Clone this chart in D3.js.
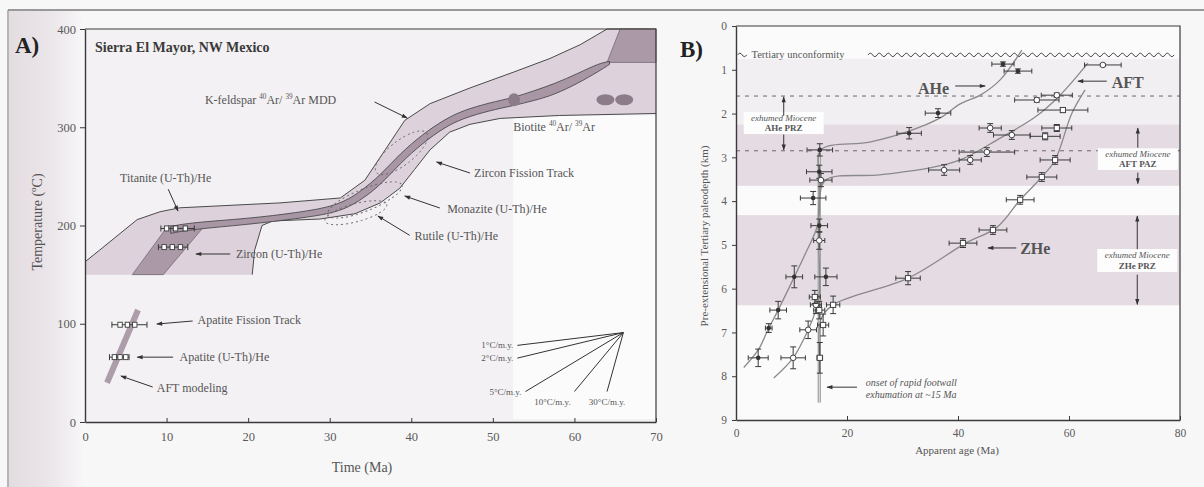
<!DOCTYPE html>
<html><head><meta charset="utf-8">
<script src="https://cdn.jsdelivr.net/npm/d3@7"></script>
<style>
body{margin:0;background:#f8f7f8;}
svg, svg text{font-family:"Liberation Serif","DejaVu Serif",serif;}
</style></head><body>
<svg id="fig" width="1204" height="487" font-family="Liberation Serif, DejaVu Serif, serif"></svg>
<script>
// ---------- Panel A: thermal history, Sierra El Mayor ----------
const timeTicks = [0, 10, 20, 30, 40, 50, 60, 70];
const tempTicks = [0, 100, 200, 300, 400];

// light envelope of permissible t-T paths (time Ma, temperature °C), clockwise
const envelopeUpper = [[0,163],[1.8,175],[6.4,206],[9.2,214],[11.6,218],[23.9,223],[31.3,228],[34.3,246],[36.8,277],[39.2,307],[42.3,324],[47.2,340],[52.5,356],[57,370],[60.7,384],[64,400],[70,400]];
const envelopeLower = [[70,314],[58.2,312],[50.9,309],[47.2,303],[44.7,295],[42.3,277],[40.4,257],[38.6,238],[36.2,223],[33.1,212],[28.8,206.6],[23,204.6],[21.7,200],[20.8,175],[20.5,150],[0,150]];
// darker blocks
const zirconHeBlock = [[5.8,150],[9.6,150],[14.7,200],[10.2,200]];
const kfsBlock = [[64,366],[65.6,400],[70,400],[70,366]];
// preferred cooling path: [time, lower T, upper T]
const coolPath = [[10.5,192,199],[13,196,203],[20,201,207],[26,207,213],[31,213,220],[33.7,225,234],[36.2,241,251],[38.6,263,273],[41.4,284,293],[44.1,300,308],[46.3,309,317],[49.6,317,325],[52.5,322,330],[55,327,337],[57.5,333,344],[60.5,345,355],[63,357,365],[64.3,364,367]];
const aftModel = [[2.7,40],[6.5,114]];

// thermochronometer ages (Ma) at their closure temperatures
const titaniteAges = [10.0, 11.1, 12.3], titaniteTemp = 197, titaniteRange = [9.3, 13.4];
const zirconHeAges = [9.7, 10.7, 11.7], zirconHeTemp = 178, zirconHeRange = [9.0, 12.6];
const apatiteFTAges = [4.3, 5.2, 6.1], apatiteFTTemp = 99, apatiteFTRange = [3.3, 7.6];
const apatiteHeAges = [3.6, 4.3, 5.0], apatiteHeTemp = 66, apatiteHeRange = [3.0, 5.4];
const biotiteAges = [52.6, 63.8, 66.1], biotiteTemp = 328;

// reference cooling rates (°C per m.y.)
const rateValues = [1, 2, 5, 10, 30];
const rateLabels = ["1°C/m.y.", "2°C/m.y.", "5°C/m.y.", "10°C/m.y.", "30°C/m.y."];
const rateOrigin = [66, 91];

// ---------- Panel B: age vs paleodepth ----------
const ageTicks = [0, 20, 40, 60, 80];
const depthTicks = [0,1,2,3,4,5,6,7,8,9];
// [age Ma, depth km, age error, depth error]
const aheData = [[48.1,0.87,2,0.05],[50.8,1.03,2.5,0.05],[36.4,1.99,2.3,0.1],[31.2,2.45,2.2,0.13],[15.1,2.83,2.3,0.14],[15,3.33,2.3,0.15],[13.9,3.93,2.3,0.15],[15,4.56,1.5,0.15],[16.2,5.73,2,0.2],[10.5,5.73,1.5,0.25],[7.6,6.49,1.5,0.2],[5.9,6.9,0.6,0.1],[4,7.58,1.8,0.2]];
const aftData = [[66.1,0.89,3.3,0.03],[57.8,1.58,2.8,0.05],[54.2,1.69,4,0.05],[49.7,2.49,3.3,0.1],[45.8,2.33,2,0.1],[45.2,2.88,5,0.1],[42.2,3.06,2,0.1],[37.5,3.29,2.8,0.12],[15.3,3.52,2,0.15],[15,4.9,1,0.2],[14.4,6.37,1,0.2],[13,6.94,1.5,0.2],[10.3,7.58,2.2,0.25]];
const zheData = [[58.9,1.92,4.5,0.05],[57.8,2.33,2.7,0.08],[55.7,2.52,2.7,0.08],[57.5,3.06,2.7,0.1],[55.1,3.45,2.7,0.1],[51.2,3.97,2.5,0.1],[46.3,4.66,2.5,0.1],[40.9,4.96,2.5,0.1],[31,5.76,2.2,0.15],[17.5,6.37,1.2,0.2],[15.7,6.83,1,0.25],[14.2,6.19,1,0.15],[15,6.49,1,0.2],[15.1,7.58,0.5,0.35]];
// age-depth trend curves
const aheCurve = [[51.5,0.55],[47.6,1.23],[44,1.58],[40.4,1.78],[36.8,2.1],[31.2,2.4],[24.1,2.65],[15.3,2.83],[15,3.5],[14.8,4.5],[12.5,5.2],[10.5,5.73],[7.6,6.49],[5.9,6.9],[4,7.4],[1.4,7.8]];
const aftCurve = [[63.4,0.85],[58.4,1.58],[53.9,2.08],[47.6,2.56],[40.4,3.06],[34.9,3.24],[25.9,3.4],[16.2,3.52],[15,4.0],[15,6.2],[14.4,6.49],[13,6.94],[10.3,7.58],[6.8,8.04]];
const zheCurve = [[62.9,1.46],[60.5,2.0],[57.5,3.06],[55.1,3.45],[51.2,3.97],[47,4.6],[41.4,4.96],[31,5.76],[17.5,6.37],[15.3,6.7],[15.1,7.6]];
// depth intervals of exhumed partial retention / annealing zones
const zoneBands = [[2.25, 3.65], [4.32, 6.38]];
const dashedDepths = [1.6, 2.85];
const unconformityDepth = 0.66;
const onsetAge = 15, onsetDepths = [2.9, 8.6];

const svg = d3.select("#fig");
const W = 1204, H = 487;
const ink = "#3a3a3a", soft = "#555";
const serif = "Liberation Serif, DejaVu Serif, serif";

// paper
const defs = svg.append("defs");
const grad = defs.append("linearGradient").attr("id","edge").attr("x1",0).attr("x2",1);
grad.append("stop").attr("offset",0).attr("stop-color","#e3dce1");
grad.append("stop").attr("offset",0.6).attr("stop-color","#ece7eb");
grad.append("stop").attr("offset",1).attr("stop-color","#f8f7f8");
svg.append("rect").attr("width",W).attr("height",H).attr("fill","#f8f7f8");
svg.append("rect").attr("x",9).attr("y",11).attr("width",75).attr("height",H-11).attr("fill","url(#edge)");
svg.append("line").attr("x1",8).attr("x2",W).attr("y1",10).attr("y2",10).attr("stroke","#7a7a7a").attr("stroke-width",1.5);
svg.append("line").attr("x1",8).attr("x2",8).attr("y1",10).attr("y2",H).attr("stroke","#8a8a8a").attr("stroke-width",1.2);

defs.append("marker").attr("id","ah").attr("viewBox","0 0 10 10").attr("refX",9).attr("refY",5)
  .attr("markerWidth",8).attr("markerHeight",6).attr("orient","auto")
  .append("path").attr("d","M0,1.5L10,5L0,8.5Z").attr("fill","#333");

function arrow(g, x1, y1, x2, y2) {
  g.append("line").attr("x1",x1).attr("y1",y1).attr("x2",x2).attr("y2",y2)
    .attr("stroke","#333").attr("stroke-width",1).attr("marker-end","url(#ah)");
}
function supText(g, x, y, parts, size, anchor) {
  const t = g.append("text").attr("x",x).attr("y",y).attr("font-size",size).attr("fill",soft)
    .attr("font-family",serif).attr("text-anchor",anchor || "start");
  parts.forEach(p => {
    const s = t.append("tspan").text(p[0]);
    if (p[1]) s.attr("font-size", size*0.6).attr("dy", -size*0.4);
    else if (p[2]) s.attr("dy", size*0.4);
  });
  return t;
}

// ================= Panel A =================
const xA = d3.scaleLinear().domain([0,70]).range([85,656]);
const yA = d3.scaleLinear().domain([0,400]).range([422,29]);
const gA = svg.append("g").attr("font-family",serif);
const lineA = d3.line().x(d => xA(d[0])).y(d => yA(d[1]));

gA.append("rect").attr("x",xA(0)).attr("y",yA(400)).attr("width",xA(70)-xA(0)).attr("height",yA(0)-yA(400)).attr("fill","#f3f1f3");
gA.append("rect").attr("x",xA(52.5)).attr("y",yA(312)).attr("width",xA(70)-xA(52.5)).attr("height",yA(3)-yA(312)).attr("fill","#fbfbfc");

gA.append("path").attr("d", lineA(envelopeUpper.concat(envelopeLower)) + "Z").attr("fill","#ddd2db");
gA.append("path").attr("d", lineA(envelopeUpper)).attr("fill","none").attr("stroke","#4a4a4a").attr("stroke-width",1);
gA.append("path").attr("d", lineA(envelopeLower.slice(0, -1))).attr("fill","none").attr("stroke","#4a4a4a").attr("stroke-width",1);
gA.append("path").attr("d", lineA(zirconHeBlock) + "Z").attr("fill","#ab99a8").attr("stroke","#6a5f68").attr("stroke-width",0.7);
gA.append("path").attr("d", lineA(kfsBlock) + "Z").attr("fill","#ab99a8").attr("stroke","#6a5f68").attr("stroke-width",0.7);

const coolArea = d3.area().x(d => xA(d[0])).y0(d => yA(d[1])).y1(d => yA(d[2])).curve(d3.curveBasis);
gA.append("path").attr("d", coolArea(coolPath)).attr("fill","#a996a5").attr("stroke","#4a4a4a").attr("stroke-width",0.9);

// dotted closure windows
const ellipses = [
  {t: 38.8, T: 274, rx: 32, ry: 12, rot: -38},
  {t: 34.3, T: 226, rx: 40, ry: 11, rot: -22},
  {t: 33.2, T: 213, rx: 32, ry: 9, rot: -15}
];
ellipses.forEach(e => {
  gA.append("ellipse").attr("cx",0).attr("cy",0).attr("rx",e.rx).attr("ry",e.ry)
    .attr("transform",`translate(${xA(e.t)},${yA(e.T)}) rotate(${e.rot})`)
    .attr("fill","none").attr("stroke","#666").attr("stroke-width",0.9).attr("stroke-dasharray","2,3");
});

gA.append("path").attr("d", lineA(aftModel)).attr("stroke","#ad9daa").attr("stroke-width",6).attr("stroke-linecap","butt");

function ageGroup(ages, temp, range) {
  gA.append("line").attr("x1",xA(range[0])).attr("x2",xA(range[1])).attr("y1",yA(temp)).attr("y2",yA(temp)).attr("stroke",ink).attr("stroke-width",1);
  range.forEach(r => gA.append("line").attr("x1",xA(r)).attr("x2",xA(r)).attr("y1",yA(temp)-3).attr("y2",yA(temp)+3).attr("stroke",ink));
  ages.forEach(a => gA.append("rect").attr("x",xA(a)-2.2).attr("y",yA(temp)-2.5).attr("width",4.4).attr("height",5)
    .attr("fill","#fff").attr("stroke",ink).attr("stroke-width",0.9));
}
ageGroup(titaniteAges, titaniteTemp, titaniteRange);
ageGroup(zirconHeAges, zirconHeTemp, zirconHeRange);
ageGroup(apatiteFTAges, apatiteFTTemp, apatiteFTRange);
ageGroup(apatiteHeAges, apatiteHeTemp, apatiteHeRange);
biotiteAges.forEach((a, i) => {
  gA.append("ellipse").attr("cx",xA(a)).attr("cy",yA(biotiteTemp)).attr("rx", i ? 9 : 6).attr("ry", i ? 5.5 : 6.5)
    .attr("fill","#8c7b89");
});

// cooling-rate fan
rateValues.forEach((r, i) => {
  const dt = Math.min(13, 60 / r);
  const end = [rateOrigin[0] - dt, rateOrigin[1] - r * dt];
  gA.append("line").attr("x1",xA(rateOrigin[0])).attr("y1",yA(rateOrigin[1])).attr("x2",xA(end[0])).attr("y2",yA(end[1]))
    .attr("stroke","#333").attr("stroke-width",1);
  const lbl = gA.append("text").attr("font-size",9).attr("fill","#555").text(rateLabels[i]);
  if (i < 3) lbl.attr("x",xA(end[0]) - 4).attr("y",yA(end[1]) + 3).attr("text-anchor","end");
  else lbl.attr("x",xA(end[0]) + (i === 3 ? -22 : 0)).attr("y",yA(end[1]) + 13).attr("text-anchor","middle");
});

// axes A
const axA = gA.append("g").attr("transform",`translate(0,${yA(0)})`)
  .call(d3.axisBottom(xA).tickValues(timeTicks).tickSizeInner(-4).tickSizeOuter(0).tickPadding(10));
const ayA = gA.append("g").attr("transform",`translate(${xA(0)},0)`)
  .call(d3.axisLeft(yA).tickValues(tempTicks).tickSizeInner(5).tickSizeOuter(0).tickPadding(4));
[axA, ayA].forEach(a => {
  a.attr("font-family",serif);
  a.select(".domain").attr("stroke",ink).attr("stroke-width",1.4);
  a.selectAll(".tick line").attr("stroke",ink);
  a.selectAll("text").attr("font-family",serif).attr("font-size",12.5).attr("fill","#5a5a5a");
});
gA.append("path").attr("d",`M${xA(0)},${yA(400)}H${xA(70)}V${yA(0)}`).attr("fill","none").attr("stroke",ink).attr("stroke-width",1.2);

gA.append("text").attr("x",15).attr("y",53).attr("font-size",23).attr("font-weight","bold").attr("fill","#222").text("A)");
gA.append("text").attr("x",95).attr("y",52).attr("font-size",14).attr("font-weight","bold").attr("fill","#3a3a3a").text("Sierra El Mayor, NW Mexico");
const ytA = gA.append("text").attr("transform","translate(42,222) rotate(-90)").attr("text-anchor","middle").attr("font-size",14).attr("fill","#555");
ytA.append("tspan").text("Temperature (");
ytA.append("tspan").text("o").attr("font-size",9).attr("dy",-6);
ytA.append("tspan").text("C)").attr("dy",6);
gA.append("text").attr("x",362).attr("y",472).attr("text-anchor","middle").attr("font-size",14).attr("fill","#555").text("Time (Ma)");

// labelled annotations: text position, optional arrow from/to (time, temperature)
const annA = [
  {parts:[["K-feldspar  "],["40",1],["Ar/ ",0,1],["39",1],["Ar MDD",0,1]], at:[14.7,323.7], from:[35.5,325.7], to:[39.5,309.4]},
  {parts:[["Biotite  "],["40",1],["Ar/ ",0,1],["39",1],["Ar",0,1]], at:[52.5,296]},
  {parts:[["Zircon Fission Track"]], at:[47.7,249], from:[47.2,253.4], to:[43.1,264.6]},
  {parts:[["Monazite (U-Th)/He"]], at:[44.4,212.7], from:[43.5,217.8], to:[39.2,230]},
  {parts:[["Rutile (U-Th)/He"]], at:[40.4,185], from:[39.8,190], to:[35.9,209.7]},
  {parts:[["Titanite (U-Th)/He"]], at:[4.3,244], from:[10.2,237], to:[11.4,214.8]},
  {parts:[["Zircon (U-Th)/He"]], at:[18.5,167], from:[17.8,171], to:[13.6,171]},
  {parts:[["Apatite Fission Track"]], at:[13.8,99.7], from:[13.2,102.8], to:[8.8,99.7]},
  {parts:[["Apatite (U-Th)/He"]], at:[11.6,62], from:[10.8,66], to:[6.4,66]},
  {parts:[["AFT modeling"]], at:[8.8,30.5], from:[8.3,35.6], to:[4.4,46.8]}
];
annA.forEach(a => {
  supText(gA, xA(a.at[0]), yA(a.at[1]), a.parts, 12);
  if (a.from) arrow(gA, xA(a.from[0]), yA(a.from[1]), xA(a.to[0]), yA(a.to[1]));
});

// ================= Panel B =================
const xB = d3.scaleLinear().domain([0,80]).range([736,1180]);
const yB = d3.scaleLinear().domain([0,9]).range([26,420]);
const gB = svg.append("g").attr("font-family",serif);
const lineB = d3.line().x(d => xB(d[0])).y(d => yB(d[1])).curve(d3.curveCatmullRom.alpha(0.5));

gB.append("rect").attr("x",xB(0)).attr("y",yB(0)).attr("width",xB(80)-xB(0)).attr("height",yB(9)-yB(0)).attr("fill","#fbfbfb");
gB.append("rect").attr("x",xB(0)).attr("y",yB(0.75)).attr("width",xB(80)-xB(0)).attr("height",yB(zoneBands[0][0])-yB(0.75)).attr("fill","#f2eff2");
zoneBands.forEach(b => gB.append("rect").attr("x",xB(0)).attr("y",yB(b[0])).attr("width",xB(80)-xB(0)).attr("height",yB(b[1])-yB(b[0])).attr("fill","#e5dbe3"));
dashedDepths.forEach(d => gB.append("line").attr("x1",xB(0)).attr("x2",xB(80)).attr("y1",yB(d)).attr("y2",yB(d))
  .attr("stroke","#6a6a6a").attr("stroke-width",1).attr("stroke-dasharray","4,5"));

// onset of rapid exhumation
gB.append("line").attr("x1",xB(onsetAge)).attr("x2",xB(onsetAge)).attr("y1",yB(onsetDepths[0])).attr("y2",yB(onsetDepths[1])).attr("stroke","#9a9a9a").attr("stroke-width",3.2);
gB.append("line").attr("x1",xB(onsetAge)).attr("x2",xB(onsetAge)).attr("y1",yB(onsetDepths[0])).attr("y2",yB(onsetDepths[1])).attr("stroke","#e8e8e8").attr("stroke-width",1);

// unconformity wave
function wave(x0, x1, y) {
  let d = `M${x0},${y}`;
  const p = 9;
  for (let x = x0; x + p <= x1; x += p) d += `q${p/4},-3.5 ${p/2},0 q${p/4},3.5 ${p/2},0`;
  return d;
}
const uy = yB(unconformityDepth);
gB.append("path").attr("d", wave(xB(0.3), xB(2.5), uy) + wave(xB(23.8), xB(80), uy)).attr("fill","none").attr("stroke","#444").attr("stroke-width",1);
gB.append("text").attr("x",xB(2.8)).attr("y",uy + 3.5).attr("font-size",10.5).attr("fill",soft).text("Tertiary unconformity");

// trend curves
[aheCurve, aftCurve, zheCurve].forEach(c => gB.append("path").attr("d", lineB(c)).attr("fill","none").attr("stroke","#8a8a8a").attr("stroke-width",1.3));

// error bars and symbols
function drawSeries(data, shape) {
  const g = gB.append("g");
  data.forEach(p => {
    const cx = xB(p[0]), cy = yB(p[1]);
    const xl = xB(p[0]-p[2]), xr = xB(p[0]+p[2]), yt = yB(p[1]-p[3]), yb = yB(p[1]+p[3]);
    g.append("path").attr("d",`M${xl},${cy}H${xr}M${xl},${cy-2.5}V${cy+2.5}M${xr},${cy-2.5}V${cy+2.5}M${cx},${yt}V${yb}M${cx-3},${yt}H${cx+3}M${cx-3},${yb}H${cx+3}`)
      .attr("stroke","#3a3a3a").attr("stroke-width",1).attr("fill","none");
    if (shape === "dot") g.append("circle").attr("cx",cx).attr("cy",cy).attr("r",2.3).attr("fill","#333");
    else if (shape === "circle") g.append("circle").attr("cx",cx).attr("cy",cy).attr("r",2.8).attr("fill","#fff").attr("stroke","#444").attr("stroke-width",1);
    else g.append("rect").attr("x",cx-2.6).attr("y",cy-2.6).attr("width",5.2).attr("height",5.2).attr("fill","#fff").attr("stroke","#444").attr("stroke-width",1);
  });
}
drawSeries(aheData, "dot");
drawSeries(aftData, "circle");
drawSeries(zheData, "square");

// curve labels
[["AHe",32.8,1.55,[39.5,1.37],[44.9,1.37]],["AFT",67.7,1.42,[66.8,1.26],[61.6,1.26]],["ZHe",51.2,5.21,[50.5,5.07],[45.4,5.07]]].forEach(l => {
  gB.append("text").attr("x",xB(l[1])).attr("y",yB(l[2])).attr("font-size",16).attr("font-weight","bold").attr("fill","#555").text(l[0]);
  arrow(gB, xB(l[3][0]), yB(l[3][1]), xB(l[4][0]), yB(l[4][1]));
});

// zone boxes: centre age, depths of the two text lines, zone name, arrow spans
const zoneLabels = [
  {a: 8.6, d: [2.17, 2.4], name: "AHe PRZ", up: [2.05, 1.62], down: [2.48, 2.83]},
  {a: 72.4, d: [3.0, 3.22], name: "AFT PAZ", up: [2.78, 2.33], down: [3.35, 3.6]},
  {a: 72.3, d: [5.3, 5.55], name: "ZHe PRZ", up: [5.1, 4.34], down: [5.68, 6.36]}
];
zoneLabels.forEach(z => {
  gB.append("rect").attr("x",xB(z.a)-40).attr("y",yB(z.d[0])-9).attr("width",80).attr("height",yB(z.d[1])-yB(z.d[0])+12).attr("fill","#fdfdfd");
  gB.append("text").attr("x",xB(z.a)).attr("y",yB(z.d[0])).attr("text-anchor","middle").attr("font-size",9).attr("font-style","italic").attr("fill","#555").text("exhumed Miocene");
  gB.append("text").attr("x",xB(z.a)).attr("y",yB(z.d[1])).attr("text-anchor","middle").attr("font-size",9).attr("font-weight","bold").attr("fill","#555").text(z.name);
  arrow(gB, xB(z.a), yB(z.up[0]), xB(z.a), yB(z.up[1]));
  arrow(gB, xB(z.a), yB(z.down[0]), xB(z.a), yB(z.down[1]));
});

gB.append("text").attr("x",xB(23.4)).attr("y",yB(8.22)).attr("font-size",10).attr("font-style","italic").attr("fill","#555").text("onset of rapid footwall");
gB.append("text").attr("x",xB(23.4)).attr("y",yB(8.5)).attr("font-size",10).attr("font-style","italic").attr("fill","#555").text("exhumation at ~15 Ma");
arrow(gB, xB(21.8), yB(8.25), xB(16.4), yB(8.25));

// axes B
const axB = gB.append("g").attr("transform",`translate(0,${yB(9)})`)
  .call(d3.axisBottom(xB).tickValues(ageTicks).tickSizeInner(-4).tickSizeOuter(0).tickPadding(9));
const ayB = gB.append("g").attr("transform",`translate(${xB(0)},0)`)
  .call(d3.axisLeft(yB).tickValues(depthTicks).tickSizeInner(4).tickSizeOuter(0).tickPadding(5));
[axB, ayB].forEach(a => {
  a.attr("font-family",serif);
  a.select(".domain").attr("stroke",ink).attr("stroke-width",1.4);
  a.selectAll(".tick line").attr("stroke",ink);
  a.selectAll("text").attr("font-family",serif).attr("font-size",11.5).attr("fill","#5a5a5a");
});
gB.append("path").attr("d",`M${xB(0)},${yB(0)}H${xB(80)}V${yB(9)}`).attr("fill","none").attr("stroke",ink).attr("stroke-width",1.2);

gB.append("text").attr("x",680).attr("y",57).attr("font-size",23).attr("font-weight","bold").attr("fill","#222").text("B)");
gB.append("text").attr("transform","translate(708,236) rotate(-90)").attr("text-anchor","middle").attr("font-size",11).attr("fill","#555").text("Pre-extensional Tertiary paleodepth (km)");
gB.append("text").attr("x",957).attr("y",454).attr("text-anchor","middle").attr("font-size",11).attr("fill","#555").text("Apparent age (Ma)");
</script></body></html>
